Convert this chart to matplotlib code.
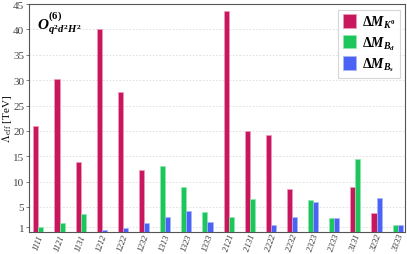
import matplotlib
matplotlib.use("Agg")
import matplotlib.pyplot as plt
from matplotlib.patches import Patch
from matplotlib.font_manager import FontProperties

plt.rcParams['font.family'] = ['Liberation Serif', 'DejaVu Serif']
plt.rcParams['mathtext.fontset'] = 'cm'
plt.rcParams['mathtext.it'] = 'Liberation Serif:italic:bold'
plt.rcParams['mathtext.rm'] = 'Liberation Serif:bold'
plt.rcParams['mathtext.bf'] = 'Liberation Serif:bold'
plt.rcParams['mathtext.cal'] = 'Liberation Serif:italic:bold'

categories = ["1111", "1121", "1131", "1212", "1222", "1232", "1313", "1323", "1333",
              "2121", "2131", "2222", "2232", "2323", "2333", "3131", "3232", "3333"]
dMK = [21.0, 30.2, 13.8, 40.1, 27.6, 12.3, None, None, None,
       43.6, 19.9, 19.2, 8.5, None, None, 9.0, 3.9, None]
dMBd = [1.0, 1.8, 3.7, None, None, None, 13.0, 9.0, 4.0,
        3.0, 6.5, None, None, 6.3, 2.8, 14.5, None, 1.4]
dMBs = [None, None, None, 0.55, 0.85, 1.8, 3.0, 4.2, 2.0,
        None, None, 1.45, 3.1, 6.05, 2.8, None, 6.8, 1.4]
yticks = [1, 5, 10, 15, 20, 25, 30, 35, 40, 45]

colors = ["#C8175D", "#1CC65C", "#4A63F4"]
edges = ["#EE9ABB", "#8EE8AE", "#A9B5FB"]
labels = [r"$\Delta M_{K^0}$", r"$\Delta M_{B_d}$", r"$\Delta M_{B_s}$"]

fig = plt.figure(figsize=(4.07, 2.55), dpi=100)
ax = fig.add_axes([0.0713, 0.088, 0.924, 0.892])

w = 0.24
series = [dMK, dMBd, dMBs]
for i in range(len(categories)):
    present = [(k, s[i]) for k, s in enumerate(series) if s[i] is not None]
    n = len(present)
    for j, (k, v) in enumerate(present):
        xpos = i + (j - (n - 1) / 2) * w
        ax.bar(xpos, v - 0.15, bottom=0.15, width=w, color=colors[k],
               edgecolor=edges[k], linewidth=0.5, zorder=3)

ax.set_xlim(-0.445, 17.35)
ax.set_ylim(0.15, 45)
ax.set_yticks(yticks)
ax.set_yticklabels([str(t) for t in yticks], fontsize=8, color="#444444")
ax.set_xticks(range(len(categories)))
ax.set_xticklabels(categories, rotation=70, fontsize=6.3, style='italic', color="#333333",
                   ha='center', va='top')
ax.tick_params(axis='x', length=0, pad=1)
ax.tick_params(axis='y', length=2.5, width=0.6, color="#666666", pad=1)
ax.yaxis.grid(True, linestyle=(0, (2, 2)), color="#dddddd", linewidth=0.6, zorder=0)
for sp in ax.spines.values():
    sp.set_color("#555555")
    sp.set_linewidth(0.8)

ax.set_ylabel(r"$\Lambda_{\rm eff}$ [TeV]", fontsize=8)
ax.yaxis.set_label_coords(-0.041, 0.5)

ax.text(0.02, 0.975, r"$\mathcal{O}^{(6)}_{q^2d^2H^2}$",
        transform=ax.transAxes, fontsize=11, va='top', ha='left', math_fontfamily='custom')

handles = [Patch(facecolor=colors[k], edgecolor=edges[k], linewidth=0.5) for k in range(3)]
leg = ax.legend(handles, labels, loc='upper right',
                prop=FontProperties(family='Liberation Serif', size=10, math_fontfamily='custom'),
                frameon=True, fancybox=False,
                edgecolor="#cccccc", handlelength=1.0, handleheight=1.1, handletextpad=0.4,
                borderpad=0.3, labelspacing=0.3, borderaxespad=0.4)
leg.get_frame().set_linewidth(0.8)

fig.savefig("out.png", dpi=100)
